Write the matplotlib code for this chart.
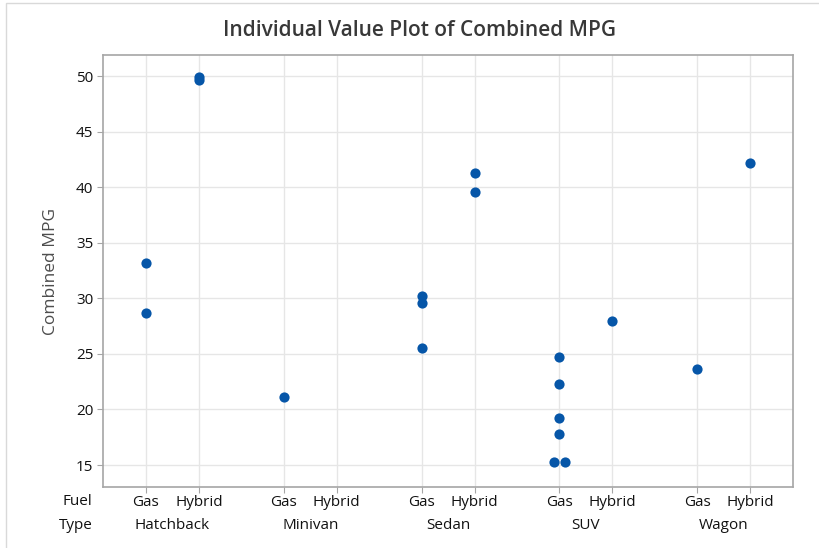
import matplotlib
matplotlib.use("Agg")
import matplotlib.pyplot as plt
from matplotlib.patches import Rectangle
from collections import Counter

plt.rcParams['font.family'] = ['Open Sans', 'DejaVu Sans']

types = ["Hatchback", "Minivan", "Sedan", "SUV", "Wagon"]
fuels = ["Gas", "Hybrid"]

# combined MPG values, per (type, fuel)
hatchback_gas = [33.2, 28.7]
hatchback_hybrid = [49.9, 49.6]
minivan_gas = [21.1]
minivan_hybrid = []
sedan_gas = [30.2, 29.6, 25.5]
sedan_hybrid = [41.25, 39.55]
suv_gas = [24.75, 22.25, 19.25, 17.8, 15.25, 15.25]
suv_hybrid = [28.0]
wagon_gas = [23.65]
wagon_hybrid = [42.15]

groups = [
    [hatchback_gas, hatchback_hybrid],
    [minivan_gas, minivan_hybrid],
    [sedan_gas, sedan_hybrid],
    [suv_gas, suv_hybrid],
    [wagon_gas, wagon_hybrid],
]

fig = plt.figure(figsize=(8.2, 5.48), dpi=100)
ax = fig.add_axes([0.1256, 0.1113, 0.8415, 0.7883])

blue = '#0656a8'
txt = '#111111'
gap = 1.6
positions = []
labels = []
for i, pair in enumerate(groups):
    for j, vals in enumerate(pair):
        pos = i * (1 + gap) + j
        positions.append(pos)
        labels.append(fuels[j])
        # identical values are put side by side
        counts = Counter(vals)
        seen = Counter()
        xs = []
        for v in vals:
            n = counts[v]
            k = seen[v]
            seen[v] += 1
            xs.append(pos + (k - (n - 1) / 2) * 0.2)
        if vals:
            ax.scatter(xs, vals, s=54, color=blue, zorder=3, linewidths=0)

ax.set_xlim(-0.81, 12.21)
ax.set_ylim(13.02, 51.89)
ax.set_yticks([15, 20, 25, 30, 35, 40, 45, 50])
ax.set_xticks(positions)
ax.set_xticklabels(labels)

ax.grid(True, color='#e6e6e6', linewidth=1)
ax.set_axisbelow(True)
for s in ax.spines.values():
    s.set_color('#a6a6a6')
    s.set_linewidth(1.2)
ax.tick_params(axis='both', colors='#a6a6a6', labelcolor=txt, labelsize=11, length=4)
ax.tick_params(axis='x', pad=2)
ax.tick_params(axis='y', pad=3)

# second row of x labels: vehicle type
for i, t in enumerate(types):
    ax.text(i * (1 + gap) + 0.5, -0.09, t, transform=ax.get_xaxis_transform(),
            ha='center', va='center', fontsize=11, color=txt)
ax.text(-0.015, -0.033, "Fuel", transform=ax.transAxes, ha='right', va='center',
        fontsize=11, color=txt)
ax.text(-0.015, -0.09, "Type", transform=ax.transAxes, ha='right', va='center',
        fontsize=11, color=txt)

ax.set_ylabel("Combined MPG", fontsize=12.5, color='#4d4d4d', labelpad=12)
fig.text(0.512, 0.944, "Individual Value Plot of Combined MPG", ha='center', va='center',
         fontsize=15, color='#383838', fontweight='semibold')

# light outer frame
fig.patches.append(Rectangle((6 / 820, -0.1), 1.2, 1.1 - 3 / 548, transform=fig.transFigure,
                             fill=False, edgecolor='#d9d9d9', linewidth=1))

fig.savefig("out.png", dpi=100)
